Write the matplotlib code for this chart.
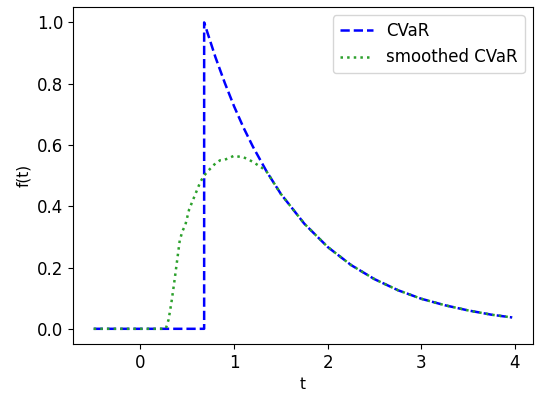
import matplotlib
matplotlib.use("Agg")
import matplotlib.pyplot as plt

plt.rcParams['font.size'] = 12

# CVaR
cvar_t = [-0.5, 0.68, 0.68, 0.8, 0.9, 1.0, 1.1, 1.2, 1.35, 1.5, 1.75, 2.0, 2.25,
          2.5, 2.75, 3.0, 3.25, 3.5, 3.75, 3.97]
cvar_f = [0.0, 0.0, 1.0, 0.887, 0.803, 0.726, 0.657, 0.595, 0.512, 0.440, 0.343,
          0.267, 0.208, 0.162, 0.126, 0.098, 0.077, 0.060, 0.046, 0.037]

# smoothed CVaR
smooth_t = [-0.5, 0.27, 0.3, 0.33, 0.36, 0.39, 0.42, 0.45, 0.48, 0.52, 0.56, 0.6,
            0.64, 0.68, 0.72, 0.76, 0.8, 0.85, 0.9, 0.95, 1.0, 1.05, 1.1, 1.15,
            1.2, 1.25, 1.3, 1.35, 1.5, 1.75, 2.0, 2.25, 2.5, 2.75, 3.0, 3.25,
            3.5, 3.75, 3.97]
smooth_f = [0.0, 0.0, 0.03, 0.085, 0.15, 0.22, 0.29, 0.32, 0.34, 0.39, 0.42, 0.45,
            0.48, 0.50, 0.515, 0.527, 0.54, 0.55, 0.552, 0.558, 0.565, 0.562, 0.56,
            0.553, 0.545, 0.535, 0.525, 0.512, 0.440, 0.343, 0.267, 0.208, 0.162,
            0.126, 0.098, 0.077, 0.060, 0.046, 0.037]

fig = plt.figure(figsize=(5.39, 3.96), dpi=100)
ax = fig.add_axes([0.135, 0.131, 0.854, 0.851])
ax.plot(cvar_t, cvar_f, '--', color='b', lw=1.8, label='CVaR')
ax.plot(smooth_t, smooth_f, ':', color='#2ca02c', lw=1.8, label='smoothed CVaR')
ax.set_xlabel('t', fontsize=11)
ax.set_ylabel('f(t)', fontsize=11)
ax.legend(loc='upper right')
fig.savefig('out.png', dpi=100)
